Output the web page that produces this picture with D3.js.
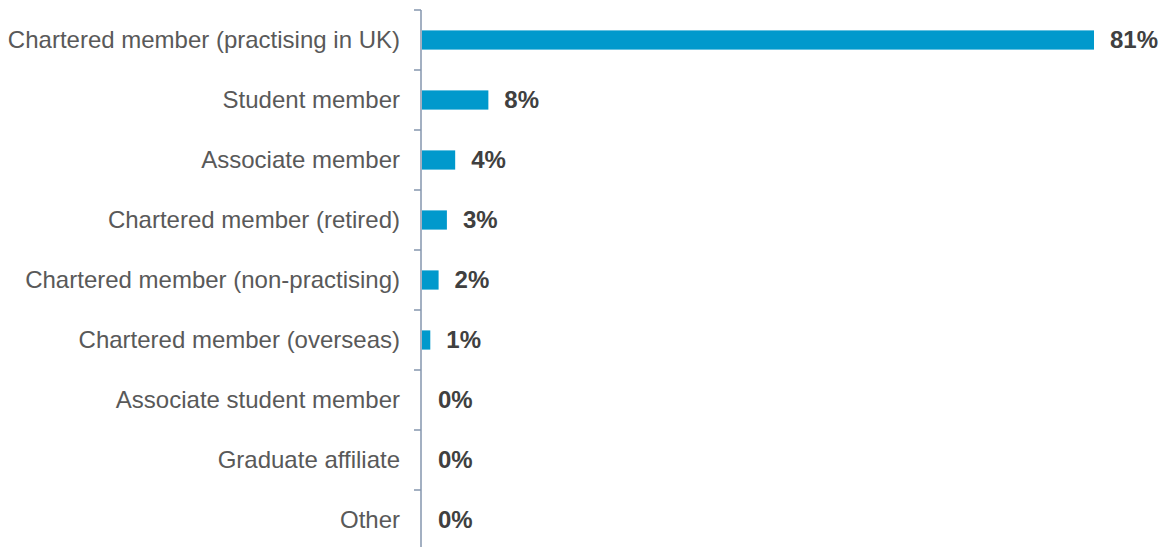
<!DOCTYPE html>
<html>
<head>
<meta charset="utf-8">
<script src="https://cdn.jsdelivr.net/npm/d3@7"></script>
<style>
  html, body { margin: 0; padding: 0; background: #fff; }
  svg { display: block; }
</style>
</head>
<body>
<svg id="chart" width="1165" height="547"></svg>
<script>
// Membership categories and share of respondents (%)
const categories = [
  "Chartered member (practising in UK)",
  "Student member",
  "Associate member",
  "Chartered member (retired)",
  "Chartered member (non-practising)",
  "Chartered member (overseas)",
  "Associate student member",
  "Graduate affiliate",
  "Other"
];
const shares = [81, 8, 4, 3, 2, 1, 0, 0, 0];

const svg = d3.select("#chart");
const axisX = 421;
const x = d3.scaleLinear().domain([0, 81]).range([axisX + 1, 1094]);
const y = d3.scaleBand().domain(categories).range([10, 550]).paddingInner(0.68).paddingOuter(0.34);

const barColor = "#0099CC";
const axisColor = "#8496AE";
const fontFamily = "Liberation Sans, Arial, sans-serif";

// bars
svg.append("g").selectAll("rect")
  .data(categories)
  .join("rect")
  .attr("x", x(0))
  .attr("y", d => y(d))
  .attr("width", (d, i) => x(shares[i]) - x(0))
  .attr("height", y.bandwidth())
  .attr("fill", barColor);

// category axis
const axis = d3.axisLeft(y).tickSize(0).tickPadding(21);
const g = svg.append("g").attr("transform", `translate(${axisX},0)`).call(axis);
g.select(".domain").attr("stroke", axisColor).attr("stroke-width", 1.5)
  .attr("d", "M0,10V550");
g.selectAll(".tick text")
  .attr("font-family", fontFamily)
  .attr("font-size", 24)
  .attr("fill", "#595959");

// tick marks at band boundaries
const bounds = d3.range(categories.length + 1).map(i => 10 + i * y.step());
g.append("g").selectAll("line")
  .data(bounds)
  .join("line")
  .attr("x1", -7).attr("x2", 0)
  .attr("y1", d => d).attr("y2", d => d)
  .attr("stroke", axisColor).attr("stroke-width", 1.5);

// value labels
svg.append("g").selectAll("text")
  .data(categories)
  .join("text")
  .attr("x", (d, i) => x(shares[i]) + 16)
  .attr("y", d => y(d) + y.bandwidth() / 2)
  .attr("dy", "0.35em")
  .attr("font-family", fontFamily)
  .attr("font-size", 24)
  .attr("font-weight", "bold")
  .attr("fill", "#404040")
  .text((d, i) => shares[i] + "%");
</script>
</body>
</html>
